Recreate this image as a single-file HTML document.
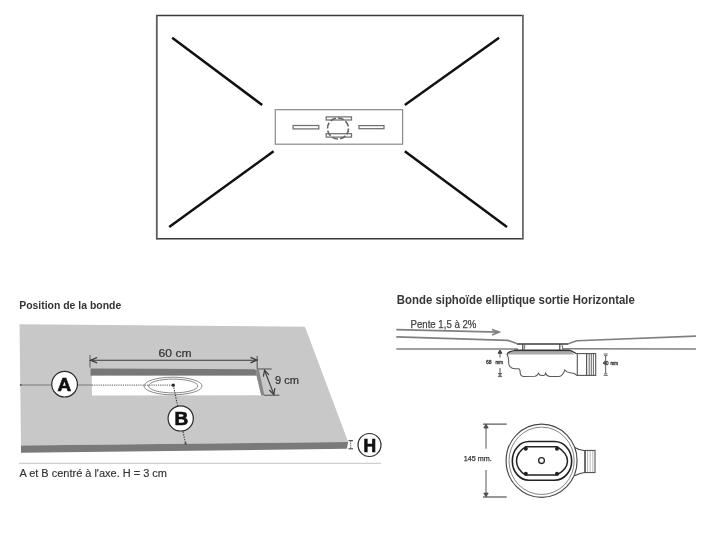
<!DOCTYPE html>
<html><head><meta charset="utf-8">
<style>
html,body{margin:0;padding:0;background:#fff;width:720px;height:540px;overflow:hidden}
svg{display:block;position:absolute;left:0;top:0}
text{font-family:"Liberation Sans",sans-serif}
svg{will-change:transform}
</style></head>
<body>
<svg width="720" height="540" viewBox="0 0 720 540">
<!-- TOP TRAY -->
<line x1="156" y1="15.5" x2="523.5" y2="15.5" stroke="#3a3a3a" stroke-width="1.4"/>
<line x1="156" y1="238.8" x2="523.5" y2="238.8" stroke="#3a3a3a" stroke-width="1.5"/>
<line x1="156.8" y1="15" x2="156.8" y2="239.3" stroke="#5c5c5c" stroke-width="1.8"/>
<line x1="522.9" y1="15" x2="522.9" y2="239.3" stroke="#6a6a6a" stroke-width="1.8"/>
<g stroke="#111" stroke-width="2.5">
<line x1="172.2" y1="37.8" x2="262.2" y2="105"/>
<line x1="499.1" y1="37.8" x2="404.8" y2="105"/>
<line x1="169.2" y1="226.9" x2="273.6" y2="151.3"/>
<line x1="507" y1="226.9" x2="404.8" y2="151.3"/>
</g>
<rect x="275.3" y="109.7" width="127.3" height="34.5" fill="none" stroke="#8a8a8a" stroke-width="1.2"/>
<g fill="#fff" stroke="#707070" stroke-width="1.25">
<rect x="293.1" y="125.5" width="25.7" height="3.4"/>
<rect x="359" y="125.6" width="25" height="3.1"/>
<rect x="326.2" y="116.9" width="25.3" height="3.1"/>
<rect x="326.2" y="133.7" width="25.3" height="3.4"/>
</g>
<circle cx="338" cy="128.5" r="10.5" fill="none" stroke="#666" stroke-width="1.6" stroke-dasharray="6 2.2"/>

<!-- POSITION DE LA BONDE -->
<text x="19.2" y="308.5" font-size="10.2" font-weight="bold" fill="#333" textLength="102" lengthAdjust="spacingAndGlyphs">Position de la bonde</text>
<polygon points="19.5,324.3 305,326.7 348.2,441.9 21,445.6" fill="#c8c8c8"/>
<polygon points="21,445.6 348.2,441.9 346.8,448.8 21,452.8" fill="#7a7a7a"/>
<!-- slot -->
<polygon points="90.5,368.6 256.7,369.3 256.7,375.8 90.5,375.7" fill="#787878"/>
<polygon points="91.8,375.7 256.7,375.8 261.3,395.2 92,395.6" fill="#fff"/>
<polygon points="256.5,369.4 258.9,369.4 264.4,395.2 261.1,395.2 256.5,375.8" fill="#888"/>
<!-- 60 cm dim -->
<g stroke="#3a3a3a" stroke-width="1.1" fill="none">
<line x1="90" y1="354.8" x2="90" y2="367.5" stroke="#808080" stroke-width="1.5"/>
<line x1="257.2" y1="356" x2="257.2" y2="369" stroke="#707070" stroke-width="1.4"/>
<line x1="90.3" y1="360.3" x2="257" y2="360.2"/>
<polyline points="97.1,357.5 90.6,360.3 97.1,362.9" stroke-width="1.3"/>
<polyline points="250.5,357.4 256.8,360.1 250.5,362.8" stroke-width="1.3"/>
<line x1="257" y1="369" x2="271.7" y2="369" stroke="#707070" stroke-width="1.4"/>
<line x1="263.9" y1="395.3" x2="279.4" y2="395.3" stroke="#707070" stroke-width="1.4"/>
<line x1="264.4" y1="370" x2="273.9" y2="394.4"/>
<polyline points="263.4,376.6 264.5,370.2 269,374.8" stroke-width="1.2"/>
<polyline points="269.3,390 273.8,394.4 274.9,388" stroke-width="1.2"/>
</g>
<text x="158.6" y="357" font-size="10.5" fill="#333" stroke="#333" stroke-width="0.2" textLength="33" lengthAdjust="spacingAndGlyphs">60 cm</text>
<text x="275" y="384.4" font-size="10.3" fill="#333" stroke="#333" stroke-width="0.2" textLength="24" lengthAdjust="spacingAndGlyphs">9 cm</text>
<!-- ellipses -->
<g fill="none" stroke="#8a8a8a" stroke-width="1">
<ellipse cx="173" cy="386" rx="29" ry="8.8"/>
<ellipse cx="173.2" cy="386" rx="24.6" ry="6.9"/>
</g>
<!-- A line -->
<line x1="20.6" y1="385" x2="92" y2="385" stroke="#7a7a7a" stroke-width="1.1"/>
<line x1="92" y1="385.1" x2="172" y2="385.2" stroke="#777" stroke-width="1.2" stroke-dasharray="1.2 1"/>
<circle cx="20.8" cy="385" r="1" fill="#555"/>
<circle cx="173.3" cy="385.2" r="1.6" fill="#222"/>
<line x1="173.3" y1="385.2" x2="185.6" y2="443.9" stroke="#333" stroke-width="1.1" stroke-dasharray="1.2 1.3"/>
<circle cx="185.6" cy="443.6" r="1" fill="#333"/>
<!-- circles -->
<g fill="#fff" stroke="#2a2a2a" stroke-width="1.2">
<circle cx="64.6" cy="384.2" r="12.8"/>
<circle cx="180.7" cy="418.4" r="12.6"/>
<circle cx="369.5" cy="445" r="11.5"/>
</g>
<g font-weight="bold" fill="#111" stroke="#111" stroke-width="0.7" text-anchor="middle">
<text x="64.4" y="391.4" font-size="19">A</text>
<text x="181.3" y="425.3" font-size="19">B</text>
<text x="369.8" y="452" font-size="17.5">H</text>
</g>
<!-- H marker -->
<g stroke="#333" stroke-width="1">
<line x1="348.5" y1="440.7" x2="353" y2="440.7"/>
<line x1="348.5" y1="448.8" x2="353" y2="448.8"/>
<line x1="350.7" y1="440.7" x2="350.7" y2="448.8" stroke-dasharray="1 1"/>
</g>
<line x1="19" y1="463.3" x2="381" y2="463.3" stroke="#c4c4c4" stroke-width="1"/>
<text x="19.4" y="476.7" font-size="10" fill="#333" stroke="#333" stroke-width="0.15" textLength="147.6" lengthAdjust="spacingAndGlyphs">A et B centré à l'axe. H = 3 cm</text>

<!-- BONDE SIPHOIDE -->
<text x="396.8" y="303.6" font-size="12" font-weight="bold" fill="#383838" textLength="238" lengthAdjust="spacingAndGlyphs">Bonde siphoïde elliptique sortie Horizontale</text>
<text x="410.6" y="327.5" font-size="10" fill="#444" stroke="#444" stroke-width="0.25" textLength="65.7" lengthAdjust="spacingAndGlyphs">Pente 1,5 à 2%</text>
<g stroke="#808080" stroke-width="1.6" fill="none">
<line x1="396.3" y1="329.6" x2="499" y2="332.1"/>
<polyline points="492,329.6 499.2,332.1 492,335"/>
<polyline points="396.3,336.9 507.9,340.4 516.7,343.4"/>
<polyline points="567.5,344 576.7,340.8 696,336.1"/>
<line x1="396.3" y1="349" x2="518" y2="349"/>
<line x1="563" y1="348.8" x2="696" y2="349"/>
</g>

<!-- drain side view -->
<g fill="none" stroke="#3a3a3a" stroke-width="1.3">
<line x1="516.8" y1="343.9" x2="567.8" y2="343.9" stroke-width="1.5"/>
<line x1="514.5" y1="350.3" x2="569.6" y2="350.3" stroke-width="1.6"/>
<line x1="522.8" y1="344" x2="522.8" y2="350" stroke-width="1.1"/>
<line x1="525" y1="344.5" x2="524" y2="350" stroke="#555" stroke-width="0.9"/>
<line x1="559.8" y1="344" x2="559.8" y2="350" stroke-width="1.1"/>
<line x1="562" y1="344.5" x2="563" y2="350" stroke="#555" stroke-width="0.9"/>
</g>
<polygon points="509,351.3 571,351.3 574.5,354.6 508,354.6" fill="#aaa"/>
<path d="M506.9,354.5 Q508.5,351 514.9,350.6 L570.8,350.6 L576.7,353.8" fill="none" stroke="#333" stroke-width="1.3"/>
<path d="M506.9,354.5 C508.6,356 508.6,357 508.6,360 L508.6,362.5 C508.6,367 511,368.5 515,368.7 L518.5,368.8 C520,369 520.2,370 520.2,372.5 C520.2,375.5 521.5,376.4 524,376.4 L535,376.2 C537,376 538,374.5 538.6,373.3 C539.2,374.8 540,375.5 541.5,375.5 L543.5,375.5 C544.8,375.5 545.3,374.8 545.6,373.3 C546.5,375.5 547.5,376.4 550,376.4 L559,376.4 C562,376.4 563.5,374 564.9,369.9 C566,371.8 567.5,372.6 570,372.8 L573,373.2 C575,373.5 576,374.5 576.5,375.3 L577.3,375.3" fill="none" stroke="#5a5a5a" stroke-width="1.05"/>
<g fill="none" stroke="#555" stroke-width="1.1">
<rect x="577.3" y="353.6" width="18.4" height="21.8"/>
<line x1="586.6" y1="353.6" x2="586.6" y2="375.4" stroke-width="1.2"/>
<line x1="589.2" y1="353.6" x2="589.2" y2="375.4" stroke-width="0.9"/>
<line x1="591.3" y1="353.6" x2="591.3" y2="375.4" stroke-width="0.9"/>
<line x1="593.4" y1="353.6" x2="593.4" y2="375.4" stroke-width="0.9"/>
</g>
<!-- small dims side -->
<g stroke="#444" stroke-width="0.9" fill="none">
<line x1="500" y1="351" x2="500" y2="357.5"/>
<line x1="500" y1="368" x2="500" y2="376.5"/>
<path d="M500,350 L498,353.3 L502,353.3 Z" fill="#444"/>
<path d="M498,373.5 L502,373.5 M497.8,376.6 L502.2,376.6 M498.5,375 L501.5,375" stroke-width="0.8"/>
<line x1="605.7" y1="356" x2="605.7" y2="373.5"/>
<path d="M603.6,354 L607.8,354 M604,355.6 L607.4,355.6 M603.6,375.4 L607.8,375.4 M604,373.8 L607.4,373.8" stroke-width="0.8"/>
</g>
<g font-size="5" fill="#333" stroke="#333" stroke-width="0.3">
<text x="486" y="364">68</text>
<text x="495.5" y="364" font-size="4.5">mm</text>
<text x="603" y="365.2">40</text>
<text x="610.4" y="365.2" font-size="4.5">mm</text>
</g>
<!-- top view -->
<g fill="none" stroke="#444">
<path d="M574.6,447.5 Q580,450.6 585,450.8 L585,472.5 Q580,472.7 574.6,475.8" stroke-width="1.1"/>
<rect x="585" y="450.4" width="10" height="22.2" stroke-width="1"/>
<path d="M587.6,451 V472 M590.2,451 V472 M592.8,451 V472" stroke-width="0.6" stroke="#888"/>
</g>
<ellipse cx="541.6" cy="460.8" rx="35.5" ry="36.6" fill="#fff" stroke="#4a4a4a" stroke-width="1.2"/>
<ellipse cx="541.6" cy="460.8" rx="32.6" ry="33.7" fill="none" stroke="#666" stroke-width="0.8"/>
<path d="M529,441.5 L554.5,441.5 A17.2,19.4 0 0 1 554.5,480.3 L529,480.3 A16.7,19.4 0 0 1 529,441.5 Z" fill="none" stroke="#222" stroke-width="1.6"/>
<path d="M525.8,446.7 L557,446.7 C564,451 567.5,455 567.5,461 C567.5,467 564,471 557,475.1 L525.8,475.1 C519,471 516.5,467 516.5,461 C516.5,455 519,451 525.8,446.7 Z" fill="none" stroke="#222" stroke-width="1.5"/>
<g fill="#222">
<circle cx="525.8" cy="448.7" r="2"/><circle cx="557" cy="448.7" r="2"/>
<circle cx="525.8" cy="473.7" r="2"/><circle cx="557" cy="473.7" r="2"/>
</g>
<circle cx="541.5" cy="460.6" r="2.9" fill="none" stroke="#222" stroke-width="1.3"/>
<g stroke="#555" stroke-width="1" fill="none">
<line x1="486" y1="424.2" x2="486" y2="448.7"/>
<line x1="486" y1="470" x2="486" y2="496.5"/>
<line x1="483" y1="424.1" x2="506.7" y2="424.1" stroke="#444" stroke-width="1.1"/>
<line x1="483" y1="497" x2="506.7" y2="497" stroke="#444" stroke-width="1.1"/>
<path d="M486,424.3 L483.8,428 L488.2,428 Z M486,496.8 L483.8,493.1 L488.2,493.1 Z" fill="#555" stroke="#444" stroke-width="0.8"/>
</g>
<text x="463.7" y="460.8" font-size="8" fill="#333" stroke="#333" stroke-width="0.25" textLength="28" lengthAdjust="spacingAndGlyphs">145 mm.</text>
</svg>
</body></html>
